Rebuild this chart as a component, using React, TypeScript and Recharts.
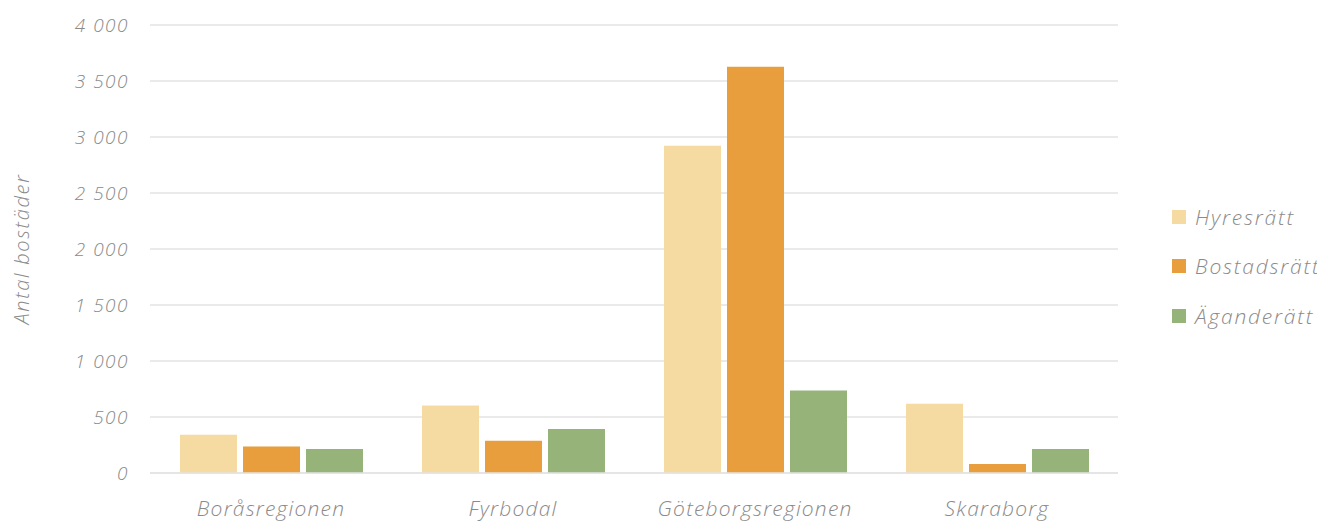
import React from 'react';
import { BarChart, Bar, XAxis, YAxis, CartesianGrid } from 'recharts';

const categories = ['Boråsregionen', 'Fyrbodal', 'Göteborgsregionen', 'Skaraborg'];
const hyresratt = [342, 603, 2922, 618];
const bostadsratt = [237, 288, 3627, 80];
const aganderatt = [214, 392, 737, 214];
const yTicks = [0, 500, 1000, 1500, 2000, 2500, 3000, 3500, 4000];

const seriesNames = ['Hyresrätt', 'Bostadsrätt', 'Äganderätt'];
const seriesColors = ['#F5DBA2', '#E89E3C', '#96B37A'];

const data = categories.map((c, i) => ({
  name: c,
  Hyresrätt: hyresratt[i],
  Bostadsrätt: bostadsratt[i],
  Äganderätt: aganderatt[i],
}));

const FONT = '"Open Sans", "Noto Sans", sans-serif';
const TEXT = '#8a8a8a';

const fmt = (v: number) => {
  if (v >= 1000) {
    const th = Math.floor(v / 1000);
    const rest = String(v % 1000).padStart(3, '0');
    return `${th}\u00A0${rest}`;
  }
  return String(v);
};

export default function App() {
  return (
    <div style={{ position: 'relative', width: 1317, height: 514 }}>
      <BarChart
        width={1317}
        height={514}
        data={data}
        margin={{ top: 17, right: 207, bottom: 0, left: 1 }}
        barGap={6}
        barCategoryGap={29}
      >
        <CartesianGrid vertical={false} stroke="#e3e3e3" strokeWidth={1.5} />
        <XAxis
          dataKey="name"
          axisLine={{ stroke: '#e3e3e3', strokeWidth: 1.5 }}
          tickLine={false}
          tickMargin={22}
          height={49}
          interval={0}
          tick={{ fill: TEXT, fontSize: 21, fontStyle: 'italic', fontWeight: 300, fontFamily: FONT, letterSpacing: 1.2 }}
        />
        <YAxis
          domain={[0, 4000]}
          ticks={yTicks}
          tickFormatter={fmt}
          axisLine={false}
          tickLine={false}
          width={141}
          tickMargin={15}
          tick={{ fill: TEXT, fontSize: 19, fontStyle: 'italic', fontWeight: 300, fontFamily: FONT, letterSpacing: 1.5 }}
          label={{
            value: 'Antal bostäder',
            angle: -90,
            position: 'insideLeft',
            offset: 13,
            style: { fill: TEXT, fontSize: 20, fontStyle: 'italic', fontWeight: 300, fontFamily: FONT, letterSpacing: 1.7, textAnchor: 'middle' },
          }}
        />
        {seriesNames.map((n, i) => (
          <Bar key={n} dataKey={n} fill={seriesColors[i]} barSize={57} isAnimationActive={false} />
        ))}
      </BarChart>
      <div
        style={{
          position: 'absolute',
          left: 1164,
          top: 184,
          fontFamily: FONT,
          fontStyle: 'italic',
          fontWeight: 300,
          color: TEXT,
          fontSize: 21,
          letterSpacing: 1.8,
          whiteSpace: 'nowrap',
        }}
      >
        {seriesNames.map((n, i) => (
          <div key={n} style={{ display: 'flex', alignItems: 'center', height: 49.5 }}>
            <div style={{ width: 14, height: 14, background: seriesColors[i], marginRight: 9 }} />
            <span>{n}</span>
          </div>
        ))}
      </div>
    </div>
  );
}
